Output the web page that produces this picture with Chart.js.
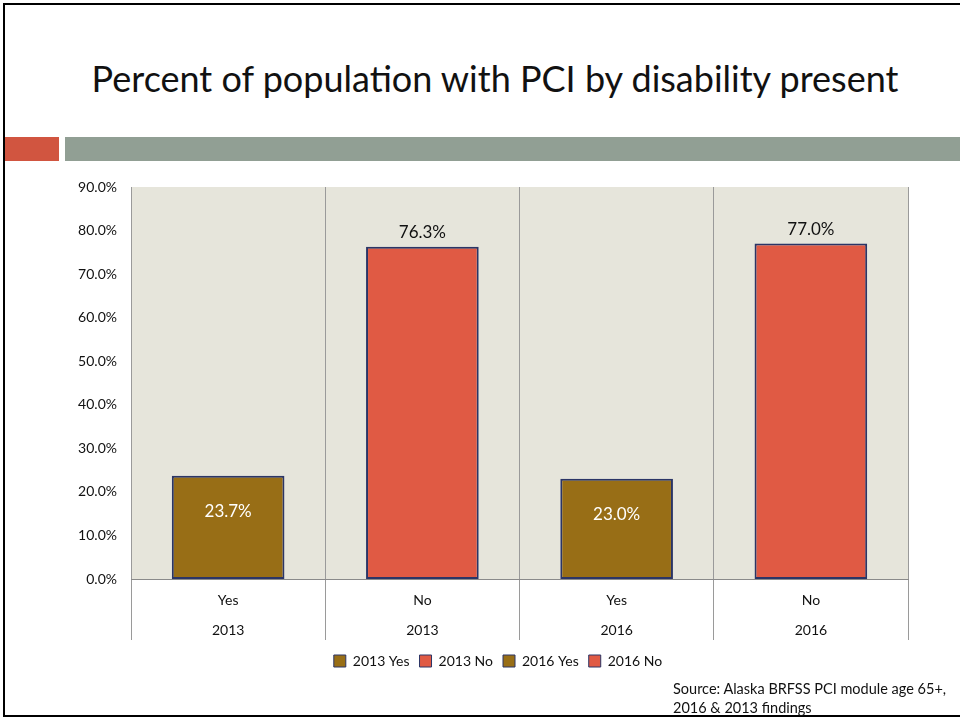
<!DOCTYPE html>
<html>
<head>
<meta charset="utf-8">
<script src="https://cdn.jsdelivr.net/npm/chart.js@4.4.0/dist/chart.umd.min.js"></script>
<style>
  html, body { margin: 0; padding: 0; background: #fff; }
  body { width: 960px; height: 721px; position: relative; overflow: hidden; font-family: Lato, "Open Sans", sans-serif; }
  #frame { position: absolute; left: 3px; top: 3px; width: 970px; height: 714px; border-left: 2px solid #000; border-top: 2px solid #000; border-bottom: 2px solid #000; box-sizing: border-box; }
  #title { position: absolute; left: 0; width: 990px; top: 56px; text-align: center; font-size: 36px; color: #111; white-space: nowrap; }
  #redbar { position: absolute; left: 5px; top: 137px; width: 54px; height: 24px; background: #D15540; }
  #greybar { position: absolute; left: 65px; top: 137px; width: 895px; height: 24px; background: #919F94; }
  #wrap { position: absolute; left: 0; top: 170px; width: 960px; height: 510px; }
  #source { position: absolute; left: 673px; top: 679px; font-size: 14.5px; line-height: 19px; color: #111; white-space: nowrap; }
</style>
</head>
<body>
<div id="frame"></div>
<div id="title">Percent of population with PCI by disability present</div>
<div id="redbar"></div>
<div id="greybar"></div>
<div id="wrap"><canvas id="c" width="960" height="510"></canvas></div>
<div id="source">Source: Alaska BRFSS PCI module age 65+,<br>2016 &amp; 2013 findings</div>
<script>
const answers = ['Yes', 'No', 'Yes', 'No'];
const years = ['2013', '2013', '2016', '2016'];
const seriesNames = ['2013 Yes', '2013 No', '2016 Yes', '2016 No'];
const values2013Yes = [23.7, null, null, null];
const values2013No = [null, 76.3, null, null];
const values2016Yes = [null, null, 23.0, null];
const values2016No = [null, null, null, 77.0];
const yTicks = [0, 10, 20, 30, 40, 50, 60, 70, 80, 90];

const brown = '#986E16';
const red = '#E05A44';
const edge = '#2B3566';
const FONT = 'Lato, "Open Sans", sans-serif';

const labels = answers.map((a, i) => [a, years[i]]);
const seriesValues = [values2013Yes, values2013No, values2016Yes, values2016No];
const seriesColors = [brown, red, brown, red];

const datasets = seriesNames.map((n, i) => ({
  label: n,
  data: seriesValues[i],
  backgroundColor: seriesColors[i],
  borderColor: edge,
  borderWidth: 2,
  borderSkipped: false,
  barPercentage: 0.58,
  categoryPercentage: 1.0
}));

const bgPlugin = {
  id: 'bg',
  beforeDraw(chart) {
    const a = chart.chartArea, ctx = chart.ctx;
    ctx.save();
    ctx.fillStyle = '#E6E5DB';
    ctx.fillRect(a.left, a.top, a.right - a.left, a.bottom - a.top);
    ctx.restore();
  },
  afterLayout(chart) {
    chart.legend.left += 44;
    chart.legend.right += 44;
  }
};

const labelPlugin = {
  id: 'vals',
  afterDatasetsDraw(chart) {
    const ctx = chart.ctx;
    ctx.save();
    ctx.font = '17px ' + FONT;
    ctx.textAlign = 'center';
    chart.data.datasets.forEach((ds, di) => {
      const meta = chart.getDatasetMeta(di);
      meta.data.forEach((bar, i) => {
        const v = ds.data[i];
        if (v === null || v === undefined) return;
        const txt = v.toFixed(1) + '%';
        if (answers[i] === 'Yes') {
          ctx.fillStyle = '#FFFFFF';
          ctx.textBaseline = 'middle';
          ctx.fillText(txt, bar.x, bar.y + 36);
        } else {
          ctx.fillStyle = '#111';
          ctx.textBaseline = 'bottom';
          ctx.fillText(txt, bar.x, bar.y - 6);
        }
      });
    });
    ctx.restore();
  }
};

new Chart(document.getElementById('c'), {
  type: 'bar',
  data: { labels, datasets },
  options: {
    responsive: false,
    animation: false,
    devicePixelRatio: 1,
    layout: { padding: { left: 0, right: 52, top: 17, bottom: 2 } },
    plugins: {
      legend: {
        position: 'bottom',
        labels: {
          boxWidth: 12, boxHeight: 12, padding: 10,
          color: '#111',
          font: { size: 14, family: FONT },
          generateLabels(chart) {
            return chart.data.datasets.map((ds, i) => ({
              text: ds.label, fillStyle: ds.backgroundColor, strokeStyle: edge,
              lineWidth: 1, datasetIndex: i, hidden: false, fontColor: '#111'
            }));
          }
        }
      },
      tooltip: { enabled: false }
    },
    scales: {
      x: {
        stacked: true,
        offset: true,
        grid: { display: true, offset: true, color: '#9A9A9A', lineWidth: 1, drawOnChartArea: true, tickLength: 61 },
        border: { display: true, color: '#8A8A8A' },
        ticks: { color: '#111', font: { size: 14, family: FONT, lineHeight: 2.14 }, padding: -54, maxRotation: 0 },
        afterFit(s) { s.height = 65; }
      },
      y: {
        stacked: true,
        min: 0, max: 90,
        afterBuildTicks(s) { s.ticks = yTicks.map(v => ({ value: v })); },
        grid: { display: false },
        border: { display: false },
        ticks: { color: '#111', padding: 6, font: { size: 14, family: FONT }, callback: v => v.toFixed(1) + '%' },
        afterFit(s) { s.width = 131; }
      }
    }
  },
  plugins: [bgPlugin, labelPlugin]
});
</script>
</body>
</html>
